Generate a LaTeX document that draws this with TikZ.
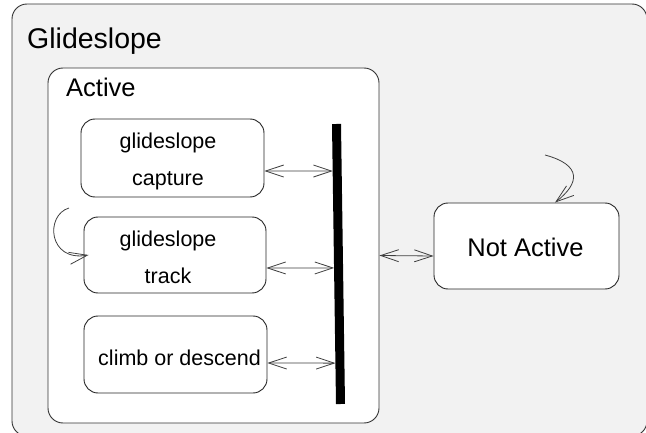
\documentclass[tikz,border=0pt]{standalone}
\usepackage{fontspec}
\setmainfont{Liberation Sans}
\usetikzlibrary{positioning,arrows.meta,calc}
\definecolor{paneback}{HTML}{F2F2F2}

\begin{document}
\begin{tikzpicture}[x=1pt,y=-1pt,
	region/.style={draw=black!80,line width=0.9pt,rounded corners=15pt,inner sep=0pt},
	substate/.style={draw=black!85,line width=0.9pt,rounded corners=14pt,fill=white,inner sep=0pt},
	caption/.style={inner sep=0pt,align=center,font=\fontsize{21.5}{37}\selectfont},
	barb/.tip={Straight Barb[length=18pt,width=12pt]},
	trans/.style={draw=black!75,line width=0.8pt,-barb},
	twoway/.style={draw=black!75,line width=0.8pt,barb-barb}]
	\useasboundingbox (0,0) rectangle (646,433);
	% regions
	\node[region,fill=paneback,minimum width=635pt,minimum height=432pt] (glideslope) at (329.5,220) {};
	\node[anchor=base west,inner sep=0pt,font=\fontsize{28.5}{32}\selectfont] (glideslopelbl) at (27,49) {Glideslope};
	\node[region,fill=white,minimum width=331pt,minimum height=355pt] (active) at (213.5,245.5) {};
	\node[anchor=base west,inner sep=0pt,font=\fontsize{25.5}{30}\selectfont] (activelbl) at (66,97) {Active};
	% states
	\node[substate,minimum width=183pt,minimum height=78pt] (capture) at (172.5,158) {};
	\node[caption] (capturelbl) at ($(capture)+(-4.5,3)$) {glideslope\\capture};
	\node[substate,minimum width=182pt,minimum height=76pt] (track) at (175,255) {};
	\node[caption] (tracklbl) at ($(track)+(-7,2)$) {glideslope\\track};
	\node[substate,minimum width=183pt,minimum height=77pt] (climb) at (175.5,354.5) {};
	\node[caption] (climblbl) at ($(climb)+(4,3)$) {climb or descend};
	\node[substate,minimum width=185pt,minimum height=86pt] (notactive) at (526.5,246) {};
	\node[caption,font=\fontsize{25.5}{30}\selectfont] (notactivelbl) at ($(notactive)+(-1,1.5)$) {Not Active};
	% fork bar
	\coordinate (bartop) at (336.5,124);
	\coordinate (barbot) at (340.5,404);
	\draw[line width=9pt] (bartop) -- (barbot);
	\coordinate (j1) at ($(bartop)!0.168!(barbot)+(-4.5,0)$);
	\coordinate (j2) at ($(bartop)!0.514!(barbot)+(-4.5,0)$);
	\coordinate (j3) at ($(bartop)!0.854!(barbot)+(-4.5,0)$);
	% transitions
	\draw[twoway] ([yshift=-13pt]capture.east) -- (j1);
	\draw[twoway] ([yshift=-13pt]track.east) -- (j2);
	\draw[twoway] ([yshift=-8.5pt]climb.east) -- (j3);
	\draw[twoway] ([yshift=-10pt]active.east) -- ([yshift=-10pt]notactive.west);
	\coordinate (trackloop) at (69,208);
	\draw[trans] (trackloop) .. controls (45,215) and (48,262) .. ([xshift=5pt]track.west);
	\coordinate (notloop) at (545,155);
	\draw[trans] (notloop) .. controls (582,165) and (580,183) .. ([xshift=28.5pt]notactive.north);
\end{tikzpicture}
\end{document}
